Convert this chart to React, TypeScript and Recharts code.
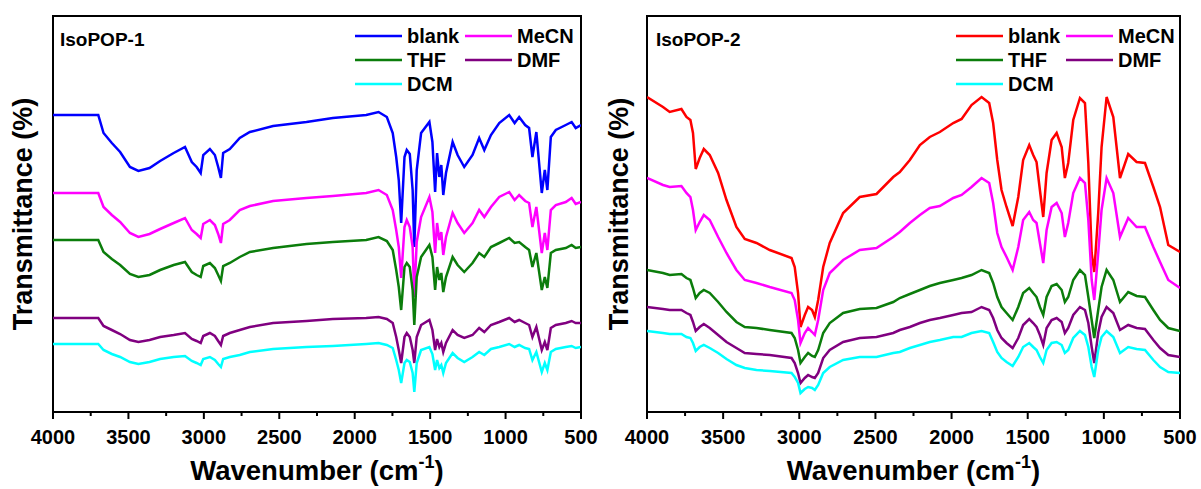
import React from 'react';
import { LineChart, Line, XAxis, YAxis, ReferenceArea } from 'recharts';

const FONT = '"Liberation Sans", Arial, Helvetica, sans-serif';

// x ticks: labelled every 500 cm-1, minor ticks in between
const TICKS = [4000, 3750, 3500, 3250, 3000, 2750, 2500, 2250, 2000, 1750, 1500, 1250, 1000, 750, 500];

// IsoPOP-1 spectra (offset transmittance, a.u.)
const WN_1 = [4000, 3700, 3665, 3610, 3555, 3490, 3434, 3360, 3290, 3200, 3125, 3080, 3048, 3021, 3004, 2960, 2927, 2905, 2887, 2872, 2828, 2762, 2695, 2541, 2320, 2145, 1924, 1842, 1787, 1748, 1725, 1708, 1692, 1670, 1655, 1635, 1616, 1605, 1589, 1560, 1505, 1485, 1467, 1454, 1439, 1426, 1413, 1395, 1351, 1318, 1274, 1219, 1175, 1141, 1097, 1042, 976, 940, 910, 870, 844, 822, 796, 760, 740, 723, 700, 667, 601, 562, 535, 500];
const BLANK_1 = [297, 297, 279, 269, 260, 245, 241, 244, 251, 259, 265, 250, 245, 239, 257, 263, 257, 245, 234, 259, 263, 274, 280, 286, 290, 294, 297, 300, 295, 279, 255, 232, 189, 255, 262, 258, 222, 165, 242, 279, 290, 270, 220, 259, 235, 247, 217, 239, 270, 257, 245, 257, 274, 262, 277, 289, 297, 289, 295, 287, 284, 255, 280, 219, 242, 222, 275, 282, 287, 290, 284, 287];
const MECN_1 = [219, 219, 205, 197, 190, 179, 175, 178, 183, 189, 194, 182, 178, 174, 188, 192, 187, 178, 169, 188, 192, 202, 206, 211, 214, 216, 219, 222, 217, 202, 182, 165, 134, 185, 192, 185, 165, 115, 170, 195, 215, 200, 159, 189, 172, 180, 157, 175, 199, 189, 179, 189, 202, 195, 205, 215, 220, 212, 217, 211, 209, 185, 205, 159, 179, 162, 202, 207, 210, 214, 208, 210];
const THF_1 = [172, 172, 160, 153, 147, 138, 135, 137, 142, 147, 150, 140, 137, 135, 146, 149, 144, 137, 131, 146, 149, 155, 160, 164, 168, 170, 172, 175, 171, 162, 142, 125, 102, 145, 149, 145, 122, 87, 135, 155, 167, 155, 122, 145, 132, 139, 120, 135, 155, 147, 140, 149, 159, 155, 165, 169, 174, 169, 170, 165, 162, 145, 159, 122, 135, 124, 159, 162, 164, 167, 164, 165];
const DMF_1 = [94, 94, 86, 82, 78, 72, 70, 72, 75, 77, 79, 73, 71, 69, 76, 79, 76, 71, 67, 76, 79, 82, 85, 89, 91, 93, 94, 95, 93, 89, 75, 62, 49, 75, 79, 75, 62, 49, 75, 87, 92, 82, 62, 73, 65, 69, 60, 69, 82, 77, 74, 77, 84, 80, 87, 90, 94, 90, 92, 89, 87, 75, 85, 62, 70, 62, 84, 87, 89, 91, 89, 89];
const DCM_1 = [68, 68, 62, 58, 55, 50, 48, 50, 53, 55, 56, 51, 49, 47, 53, 55, 52, 48, 45, 53, 55, 57, 60, 63, 65, 66, 68, 69, 67, 64, 52, 42, 29, 49, 52, 50, 39, 20, 49, 62, 65, 58, 42, 52, 44, 47, 39, 49, 59, 54, 50, 55, 60, 57, 63, 65, 68, 65, 67, 64, 63, 52, 60, 40, 49, 42, 60, 63, 65, 66, 64, 65];

// IsoPOP-2 spectra
const WN_2 = [4000, 3895, 3851, 3774, 3741, 3715, 3698, 3680, 3654, 3627, 3588, 3533, 3478, 3413, 3358, 3281, 3194, 3051, 3030, 3008, 2992, 2964, 2942, 2916, 2898, 2876, 2843, 2800, 2712, 2603, 2493, 2383, 2340, 2274, 2208, 2143, 2077, 1989, 1934, 1869, 1803, 1753, 1727, 1700, 1672, 1639, 1599, 1562, 1530, 1490, 1464, 1442, 1420, 1398, 1376, 1343, 1310, 1277, 1256, 1234, 1201, 1157, 1124, 1102, 1080, 1063, 1037, 1015, 982, 938, 894, 840, 785, 730, 675, 631, 577, 500];
const BLANK_2 = [315, 305, 300, 303, 295, 292, 279, 243, 254, 263, 257, 239, 212, 185, 173, 169, 162, 154, 145, 119, 85, 97, 105, 102, 95, 112, 145, 169, 199, 215, 218, 235, 240, 252, 267, 275, 280, 289, 293, 307, 315, 309, 289, 252, 222, 205, 186, 215, 252, 267, 257, 250, 222, 195, 239, 272, 279, 265, 234, 249, 292, 314, 309, 249, 159, 140, 199, 265, 315, 295, 234, 258, 250, 249, 225, 205, 167, 160];
const MECN_2 = [234, 227, 225, 226, 219, 215, 202, 182, 190, 197, 192, 175, 159, 142, 132, 129, 125, 119, 112, 92, 69, 79, 84, 80, 77, 92, 122, 139, 152, 162, 164, 175, 180, 189, 197, 204, 206, 214, 217, 225, 234, 229, 209, 179, 165, 155, 142, 165, 192, 200, 192, 189, 169, 149, 182, 205, 209, 199, 175, 189, 219, 234, 229, 192, 132, 112, 159, 202, 234, 219, 175, 194, 185, 185, 165, 150, 132, 124];
const THF_2 = [142, 139, 137, 138, 134, 132, 124, 114, 119, 122, 119, 110, 100, 90, 85, 84, 82, 79, 74, 62, 49, 55, 59, 56, 55, 62, 79, 89, 99, 103, 104, 110, 114, 118, 122, 126, 129, 132, 134, 137, 142, 139, 129, 115, 105, 99, 92, 105, 119, 124, 119, 115, 105, 97, 115, 126, 128, 122, 110, 115, 132, 142, 137, 115, 92, 74, 102, 125, 142, 132, 110, 120, 116, 115, 102, 92, 84, 81];
const DMF_2 = [105, 103, 102, 102, 99, 97, 90, 81, 85, 88, 84, 77, 70, 64, 59, 58, 57, 54, 49, 39, 29, 34, 37, 35, 34, 39, 54, 62, 70, 74, 75, 79, 82, 85, 89, 92, 94, 97, 99, 100, 105, 102, 94, 82, 74, 69, 64, 74, 87, 93, 89, 85, 77, 67, 84, 92, 94, 90, 79, 84, 97, 105, 102, 89, 65, 49, 79, 95, 105, 99, 82, 87, 84, 83, 72, 64, 57, 55];
const DCM_2 = [81, 79, 78, 78, 75, 74, 69, 61, 65, 67, 64, 59, 53, 47, 44, 42, 41, 39, 35, 29, 19, 23, 25, 24, 22, 27, 39, 45, 52, 55, 55, 59, 60, 64, 67, 70, 72, 75, 75, 79, 81, 79, 70, 60, 54, 50, 46, 55, 65, 69, 65, 62, 55, 49, 62, 69, 70, 67, 59, 62, 74, 81, 77, 65, 45, 35, 62, 75, 81, 75, 59, 65, 63, 62, 52, 45, 40, 39];

const KEYS = ['blank', 'MeCN', 'THF', 'DMF', 'DCM'];

const buildRows = (wn: number[], cols: number[][]) =>
  wn.map((w, i) => {
    const row: any = { wn: w };
    KEYS.forEach((k, j) => (row[k] = cols[j][i]));
    return row;
  });

const DATA_1 = buildRows(WN_1, [BLANK_1, MECN_1, THF_1, DMF_1, DCM_1]);
const DATA_2 = buildRows(WN_2, [BLANK_2, MECN_2, THF_2, DMF_2, DCM_2]);

const COLORS_1 = ['#0000ff', '#ff00ff', '#0b7d0b', '#800080', '#00ffff'];
const COLORS_2 = ['#ff0000', '#ff00ff', '#0b7d0b', '#800080', '#00ffff'];

const WnTick = ({ x, y, payload }: any) => {
  const major = payload.value % 500 === 0;
  return (
    <g>
      <line x1={x} x2={x} y1={y} y2={y + (major ? 7 : 4)} stroke="#000" strokeWidth={2} />
      {major && (
        <text x={x} y={y + 32} textAnchor="middle" fontFamily={FONT} fontWeight="bold" fontSize={20} fill="#000">
          {payload.value}
        </text>
      )}
    </g>
  );
};

const XTitle = ({ viewBox }: any) => (
  <text
    x={viewBox.x + viewBox.width / 2}
    y={viewBox.y + 68}
    textAnchor="middle"
    fontFamily={FONT}
    fontWeight="bold"
    fontSize={27.5}
    fill="#000"
  >
    Wavenumber (cm
    <tspan dy={-12} fontSize={18}>-1</tspan>
    <tspan dy={12}>)</tspan>
  </text>
);

const makeYTitle = (bx: number) => ({ viewBox }: any) => {
  const cy = viewBox.y + viewBox.height / 2;
  return (
    <text
      x={bx}
      y={cy}
      transform={`rotate(-90, ${bx}, ${cy})`}
      textAnchor="middle"
      fontFamily={FONT}
      fontWeight="bold"
      fontSize={27}
      fill="#000"
    >
      Transmittance (%)
    </text>
  );
};

interface PanelProps {
  data: any[];
  colors: string[];
  title: string;
  width: number;
  axisWidth: number;
  rightMargin: number;
  yTitleX: number;
  titleX: number;
  legendX: number;
}

function Panel({ data, colors, title, width, axisWidth, rightMargin, yTitleX, titleX, legendX }: PanelProps) {
  const rows = [
    [0, 1],
    [2, 3],
    [4],
  ];
  return (
    <div style={{ position: 'relative', width, height: 489 }}>
      <LineChart width={width} height={489} data={data} margin={{ top: 16, right: rightMargin, left: 0, bottom: 0 }}>
        <XAxis
          dataKey="wn"
          type="number"
          domain={[500, 4000]}
          reversed
          allowDataOverflow
          ticks={TICKS}
          interval={0}
          height={77}
          tickSize={0}
          tickMargin={0}
          axisLine={false}
          tickLine={false}
          tick={<WnTick />}
          label={{ content: XTitle }}
        />
        <YAxis
          type="number"
          domain={[0, 396]}
          allowDataOverflow
          width={axisWidth}
          tick={false}
          tickLine={false}
          axisLine={false}
          label={{ content: makeYTitle(yTitleX) }}
        />
        {KEYS.map((k, i) => (
          <Line
            key={k}
            dataKey={k}
            type="linear"
            stroke={colors[i]}
            strokeWidth={2.5}
            dot={false}
            isAnimationActive={false}
          />
        ))}
        <ReferenceArea
          x1={4000}
          x2={500}
          y1={0}
          y2={396}
          fill="none"
          fillOpacity={0}
          stroke="#000"
          strokeWidth={2}
          strokeOpacity={1}
          ifOverflow="visible"
        />
      </LineChart>
      <svg width={width} height={489} style={{ position: 'absolute', left: 0, top: 0, pointerEvents: 'none' }}>
        <text x={titleX} y={46} fontFamily={FONT} fontWeight="bold" fontSize={19} fill="#000">
          {title}
        </text>
        {rows.map((row, r) =>
          row.map((idx, c) => {
            const lx = legendX + c * 110;
            const ly = 36 + r * 24;
            return (
              <g key={KEYS[idx]}>
                <line x1={lx} x2={lx + 47} y1={ly} y2={ly} stroke={colors[idx]} strokeWidth={2.5} />
                <text x={lx + 52} y={ly + 7} fontFamily={FONT} fontWeight="bold" fontSize={20} fill="#000">
                  {KEYS[idx]}
                </text>
              </g>
            );
          })
        )}
      </svg>
    </div>
  );
}

export default function App() {
  return (
    <div style={{ position: 'absolute', left: 0, top: 0, width: 1201, height: 489, background: '#fff' }}>
      <div style={{ position: 'absolute', left: 0, top: 0 }}>
        <Panel
          data={DATA_1}
          colors={COLORS_1}
          title="IsoPOP-1"
          width={600}
          axisWidth={53}
          rightMargin={19}
          yTitleX={32}
          titleX={60}
          legendX={355}
        />
      </div>
      <div style={{ position: 'absolute', left: 600, top: 0 }}>
        <Panel
          data={DATA_2}
          colors={COLORS_2}
          title="IsoPOP-2"
          width={601}
          axisWidth={47}
          rightMargin={21}
          yTitleX={28}
          titleX={56}
          legendX={356}
        />
      </div>
    </div>
  );
}
